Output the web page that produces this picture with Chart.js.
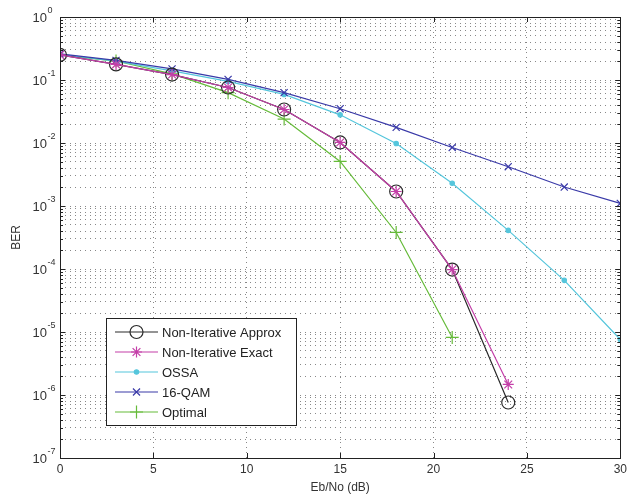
<!DOCTYPE html>
<html>
<head>
<meta charset="utf-8">
<script src="https://cdn.jsdelivr.net/npm/chart.js"></script>
<style>
  html, body { margin: 0; padding: 0; background: #fff; }
  #ber { display: block; }
</style>
</head>
<body>
<canvas id="ber" width="628" height="498"></canvas>
<script>
// Eb/No points (dB)
const ebno = [0, 3, 6, 9, 12, 15, 18, 21, 24, 27, 30];

// BER values
const nonIterApprox = [0.25, 0.177, 0.122, 0.076, 0.034, 0.0102, 0.0017, 9.8e-5, 7.6e-7, null, null];
const nonIterExact  = [0.25, 0.177, 0.122, 0.076, 0.034, 0.0102, 0.0017, 9.8e-5, 1.47e-6, null, null];
const ossa          = [0.255, 0.2, 0.14, 0.095, 0.059, 0.028, 0.0098, 0.0023, 4.1e-4, 6.6e-5, 7.6e-6];
const qam16         = [0.26, 0.205, 0.15, 0.102, 0.063, 0.035, 0.0177, 0.0085, 0.0042, 0.002, 0.0011];
const optimal       = [0.25, 0.2, 0.125, 0.063, 0.024, 0.0051, 3.8e-4, 8.2e-6, null, null, null];

// y axis decades shown as 10^n labels
const decades = [0, -1, -2, -3, -4, -5, -6, -7];
const xTicks = [0, 5, 10, 15, 20, 25, 30];

const names = ['Non-Iterative Approx', 'Non-Iterative Exact', 'OSSA', '16-QAM', 'Optimal'];
const colors = ['#2a2a2a', '#c43fa8', '#55c6dc', '#3a3aa8', '#66bb3a'];

function series(i, values, style, radius, order) {
    return {
        label: names[i],
        data: ebno.map((x, k) => ({ x: x, y: values[k] })),
        borderColor: colors[i],
        backgroundColor: style === 'circle' && radius < 4 ? colors[i] : 'rgba(0,0,0,0)',
        borderWidth: 1.2,
        pointStyle: style,
        pointRadius: radius,
        pointBorderWidth: 1.2,
        pointBorderColor: colors[i],
        pointBackgroundColor: style === 'circle' && radius < 4 ? colors[i] : 'rgba(0,0,0,0)',
        spanGaps: false,
        tension: 0,
        order: order
    };
}

const datasets = [
    series(0, nonIterApprox, 'circle', 6.5, 2),
    series(1, nonIterExact, 'star', 5.5, 1),
    series(2, ossa, 'circle', 2.2, 4),
    series(3, qam16, 'crossRot', 5, 3),
    series(4, optimal, 'cross', 6.5, 5)
];

const matlabBits = {
    id: 'matlabBits',
    afterDatasetsDraw(chart) {
        const { ctx, chartArea: a } = chart;
        const ys = chart.scales.y, xs = chart.scales.x;
        ctx.save();
        ctx.strokeStyle = '#222';
        ctx.lineWidth = 1;
        // inward tick marks
        ctx.beginPath();
        ys.ticks.forEach(t => {
            const y = Math.round(ys.getPixelForValue(t.value)) + 0.5;
            const major = Math.abs(Math.log10(t.value) - Math.round(Math.log10(t.value))) < 1e-6;
            const len = major ? 5 : 3;
            ctx.moveTo(a.left, y); ctx.lineTo(a.left + len, y);
            ctx.moveTo(a.right, y); ctx.lineTo(a.right - len, y);
        });
        xTicks.forEach(v => {
            const x = Math.round(xs.getPixelForValue(v)) + 0.5;
            ctx.moveTo(x, a.bottom); ctx.lineTo(x, a.bottom - 5);
            ctx.moveTo(x, a.top); ctx.lineTo(x, a.top + 5);
        });
        ctx.stroke();
        // box
        ctx.strokeRect(Math.round(a.left) + 0.5, Math.round(a.top) + 0.5,
            Math.round(a.right - a.left), Math.round(a.bottom - a.top));
        ctx.restore();
    },
    afterDraw(chart) {
        const { ctx, chartArea: a } = chart;
        const ys = chart.scales.y;
        ctx.save();
        ctx.fillStyle = '#333';
        // y tick labels 10^n
        decades.forEach(e => {
            const y = ys.getPixelForValue(Math.pow(10, e));
            ctx.font = '13px "Liberation Sans", Arial, sans-serif';
            ctx.textAlign = 'right';
            ctx.textBaseline = 'middle';
            ctx.fillText('10', 47, y + 1);
            ctx.font = '9px "Liberation Sans", Arial, sans-serif';
            ctx.textAlign = 'left';
            ctx.fillText(String(e), 47.5, y - 6);
        });
        // axis titles
        ctx.font = '12px "Liberation Sans", Arial, sans-serif';
        ctx.textAlign = 'center';
        ctx.textBaseline = 'middle';
        ctx.fillText('Eb/No (dB)', (a.left + a.right) / 2, 488);
        ctx.save();
        ctx.translate(17, (a.top + a.bottom) / 2);
        ctx.rotate(-Math.PI / 2);
        ctx.fillText('BER', 0, 0);
        ctx.restore();

        // legend box
        const bx = 106.5, by = 318.5, bw = 190, bh = 107;
        ctx.fillStyle = '#fff';
        ctx.fillRect(bx, by, bw, bh);
        ctx.strokeStyle = '#222';
        ctx.lineWidth = 1;
        ctx.strokeRect(bx, by, bw, bh);
        const rowY = [332, 352, 372, 392, 412];
        chart.data.datasets.forEach((ds, i) => {
            const y = rowY[i];
            ctx.strokeStyle = ds.borderColor;
            ctx.lineWidth = 1.2;
            ctx.beginPath();
            ctx.moveTo(115, y); ctx.lineTo(158, y);
            ctx.stroke();
            ctx.fillStyle = ds.pointBackgroundColor;
            Chart.helpers.drawPoint(ctx, {
                pointStyle: ds.pointStyle,
                radius: ds.pointRadius,
                rotation: 0,
                borderWidth: ds.pointBorderWidth
            }, 136.5, y);
            ctx.fillStyle = '#222';
            ctx.font = '13px "Liberation Sans", Arial, sans-serif';
            ctx.textAlign = 'left';
            ctx.textBaseline = 'middle';
            ctx.fillText(ds.label, 162, y + 1);
        });
        ctx.restore();
    }
};

new Chart(document.getElementById('ber'), {
    type: 'line',
    data: { datasets: datasets },
    options: {
        responsive: false,
        animation: false,
        layout: { padding: { top: 17, right: 0, left: 0, bottom: 0 } },
        plugins: { legend: { display: false }, tooltip: { enabled: false } },
        scales: {
            x: {
                type: 'linear',
                min: 0,
                max: 30,
                afterBuildTicks: s => { s.ticks = xTicks.map(v => ({ value: v })); },
                afterFit: s => { s.height = 40; s.paddingRight = 6; },
                grid: { color: '#888', lineWidth: 1, drawTicks: false },
                border: { display: false, dash: [1, 4] },
                ticks: {
                    padding: 4,
                    color: '#333',
                    font: { family: '"Liberation Sans", Arial, sans-serif', size: 12 },
                    maxRotation: 0
                }
            },
            y: {
                type: 'logarithmic',
                min: 1e-7,
                max: 1,
                afterBuildTicks: s => {
                    const t = [];
                    decades.slice(1).forEach(e => {
                        for (let m = 1; m <= 9; m++) t.push({ value: m * Math.pow(10, e) });
                    });
                    t.push({ value: 1 });
                    s.ticks = t;
                },
                afterFit: s => { s.width = 60; },
                grid: { color: '#888', lineWidth: 1, drawTicks: false },
                border: { display: false, dash: [1, 4] },
                ticks: { display: false }
            }
        }
    },
    plugins: [matlabBits]
});
</script>
</body>
</html>
